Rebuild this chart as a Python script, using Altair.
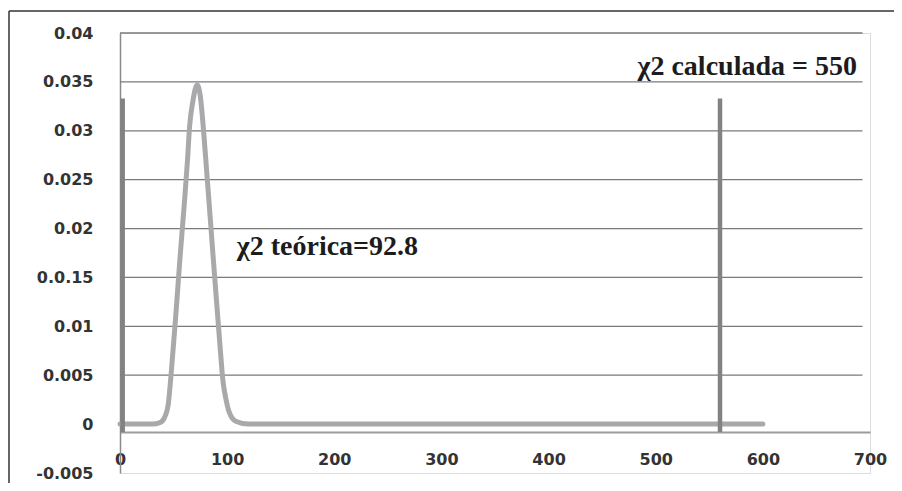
import json
import altair as alt
import pandas as pd

# ---- data ----
curve_x = [0, 10, 20, 30, 38, 42, 45, 48, 52, 56, 60, 63, 65, 68, 72, 75, 78, 81, 84, 87, 90, 93, 96, 99, 102, 108, 120, 150, 200, 300, 400, 500, 600]
curve_y = [0.0, 0.0, 0.0, 0.0, 0.0002, 0.0008, 0.002, 0.0055, 0.011, 0.017, 0.0225, 0.027, 0.0305, 0.033, 0.0347, 0.0335, 0.030, 0.0257, 0.0214, 0.017, 0.0127, 0.0085, 0.0045, 0.0025, 0.0012, 0.0003, 0.0, 0.0, 0.0, 0.0, 0.0, 0.0, 0.0]

bar_x = [2.5, 560]
bar_top = [0.0333, 0.0333]
bar_bottom = [-0.0008, -0.0008]

note_x = [109, 483]
note_y = [0.0173, 0.0357]
note_text = ["\u03c72 te\u00f3rica=92.8", "\u03c72 calculada = 550"]

y_ticks = [-0.005, 0, 0.005, 0.01, 0.015, 0.02, 0.025, 0.03, 0.035, 0.04]
y_tick_labels = ["-0.005", "0", "0.005", "0.01", "0.0.15", "0.02", "0.025", "0.03", "0.035", "0.04"]
x_ticks = [0, 100, 200, 300, 400, 500, 600, 700]
grid_y = [0.005, 0.01, 0.015, 0.02, 0.025, 0.03, 0.035, 0.04]
grid_x_end = [693]

# ---- tables ----
curve_df = pd.DataFrame({"x": curve_x, "y": curve_y})
bar_df = pd.DataFrame({"x": bar_x, "y": bar_top, "y2": bar_bottom})
note_df = pd.DataFrame({"x": note_x, "y": note_y, "t": note_text})
grid_df = pd.DataFrame({"y": grid_y, "x0": [0] * len(grid_y), "x1": grid_x_end * len(grid_y)})

xscale = alt.Scale(domain=[0, 700], nice=False, zero=False)
yscale = alt.Scale(domain=[-0.005, 0.04], nice=False, zero=False)

label_expr = f"{json.dumps(y_tick_labels)}[indexof({json.dumps(y_ticks)}, datum.value)]"

x_axis = alt.Axis(
    values=x_ticks, format="d", title=None, grid=False, ticks=False,
    offset=-41, domainColor="#9c9c9c", domainWidth=2,
    labelFont="DejaVu Sans", labelFontWeight="bold", labelFontSize=16,
    labelColor="#333333", labelPadding=27, labelBaseline="middle",
    labelFlush=False, labelOverlap=False,
)
y_axis = alt.Axis(
    values=y_ticks, labelExpr=label_expr, title=None, grid=False, ticks=False,
    domainColor="#8a8a8a", domainWidth=1.5,
    labelFont="DejaVu Sans", labelFontWeight="bold", labelFontSize=16,
    labelColor="#333333", labelPadding=27, labelOverlap=False,
)

grid = alt.Chart(grid_df).mark_rule(color="#7a7a7a", strokeWidth=1.3).encode(
    x=alt.X("x0:Q", scale=xscale, axis=x_axis),
    x2="x1:Q",
    y=alt.Y("y:Q", scale=yscale, axis=y_axis),
)

curve = alt.Chart(curve_df).mark_line(
    color="#a9a9ac", strokeWidth=5, interpolate="monotone",
    strokeCap="round", strokeJoin="round",
).encode(
    x=alt.X("x:Q", scale=xscale),
    y=alt.Y("y:Q", scale=yscale),
)

bars = alt.Chart(bar_df).mark_rule(color="#828282", strokeWidth=4.5).encode(
    x=alt.X("x:Q", scale=xscale),
    y=alt.Y("y:Q", scale=yscale),
    y2="y2:Q",
)

notes = alt.Chart(note_df).mark_text(
    font="Liberation Serif", fontWeight="bold", fontSize=28,
    align="left", baseline="alphabetic", color="#1c1c1c",
).encode(
    x=alt.X("x:Q", scale=xscale),
    y=alt.Y("y:Q", scale=yscale),
    text="t:N",
)

frame_left = alt.Chart(pd.DataFrame({"a": [0]})).mark_rule(color="#333333", strokeWidth=1.5).encode(
    x=alt.value(-111), y=alt.value(-22), y2=alt.value(455)
)
frame_top = alt.Chart(pd.DataFrame({"a": [0]})).mark_rule(color="#333333", strokeWidth=1.5).encode(
    x=alt.value(-111), x2=alt.value(774), y=alt.value(-22)
)

chart = alt.layer(grid, curve, bars, notes, frame_left, frame_top).properties(
    width=750, height=440,
    autosize=alt.AutoSizeParams(type="none"),
    padding={"left": 112, "top": 25, "right": 24, "bottom": 10},
).configure_view(stroke=None).configure(background="white")

chart.save("out.html", embed_options={"renderer": "svg", "actions": False})
